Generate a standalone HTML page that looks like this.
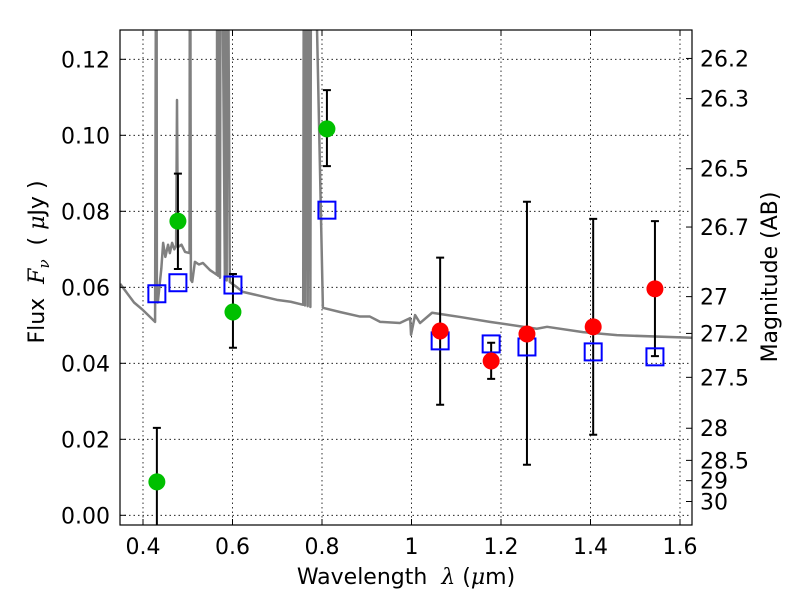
<!DOCTYPE html>
<html><head><meta charset="utf-8"><style>
body{margin:0;background:#fff;}
svg{display:block;font-family:"DejaVu Sans","Liberation Sans",sans-serif;}
</style></head><body>
<svg id="chart" width="800" height="600" viewBox="0 0 800 600" xmlns="http://www.w3.org/2000/svg">
<rect x="0" y="0" width="800" height="600" fill="#fff"/>
<defs><clipPath id="pc"><rect x="120" y="30" width="572" height="495"/></clipPath></defs>
<g id="grid"></g>
<g id="plot" clip-path="url(#pc)"></g>
<rect x="120" y="30" width="572" height="495" fill="none" stroke="#000" stroke-width="1.2"/>
<g id="axes"></g>
<text x="406" y="584" font-size="22" text-anchor="middle" xml:space="preserve">Wavelength  <tspan font-style="italic" font-family="DejaVu Serif, serif">λ</tspan> (<tspan font-style="italic" font-family="DejaVu Serif, serif">μ</tspan>m)</text>
<text transform="translate(44,262) rotate(-90)" font-size="22" text-anchor="middle" xml:space="preserve">Flux  <tspan font-style="italic" font-family="DejaVu Serif, serif">F</tspan><tspan font-style="italic" font-family="DejaVu Serif, serif" font-size="15" dy="5">ν</tspan><tspan dy="-5">  ( </tspan><tspan font-style="italic" font-family="DejaVu Serif, serif">μ</tspan>Jy )</text>
<text transform="translate(777,277) rotate(-90)" font-size="22" text-anchor="middle">Magnitude (AB)</text>
</svg>
<script>
const xTicks=[0.4,0.6,0.8,1.0,1.2,1.4,1.6];
const xTickLabels=["0.4","0.6","0.8","1","1.2","1.4","1.6"];
const yTicks=[0,0.02,0.04,0.06,0.08,0.10,0.12];
const yTickLabels=["0.00","0.02","0.04","0.06","0.08","0.10","0.12"];
const magTicks=[26.2,26.3,26.5,26.7,27,27.2,27.5,28,28.5,29,30];
const magTickLabels=["26.2","26.3","26.5","26.7","27","27.2","27.5","28","28.5","29","30"];
const specLam=[0.349,0.380,0.400,0.427,0.430,0.431,0.433,0.436,0.441,0.445,0.450,0.456,0.460,0.465,0.470,0.474,0.476,0.478,0.486,0.494,0.504,0.505,0.507,0.510,0.516,0.525,0.534,0.550,0.565,0.566,0.568,0.570,0.572,0.574,0.583,0.584,0.587,0.588,0.594,0.610,0.623,0.660,0.699,0.730,0.758,0.760,0.762,0.766,0.768,0.772,0.774,0.776,0.802,0.840,0.885,0.907,0.930,0.974,0.997,0.999,1.008,1.019,1.046,1.079,1.108,1.175,1.280,1.303,1.383,1.459,1.629];
const specFlux=[0.0609,0.0560,0.0540,0.0509,0.2,0.0600,0.0560,0.0593,0.0650,0.0717,0.0680,0.0712,0.0690,0.0717,0.0700,0.0710,0.1093,0.0706,0.0712,0.0693,0.0690,0.2,0.0620,0.0614,0.0667,0.0660,0.0664,0.0645,0.0633,0.2,0.0630,0.2,0.0625,0.2,0.0620,0.2,0.0618,0.2,0.0614,0.0600,0.0588,0.0578,0.0567,0.0562,0.0554,0.2,0.0552,0.2,0.0550,0.2,0.0548,0.2,0.0546,0.0535,0.0523,0.0523,0.0509,0.0506,0.0519,0.0475,0.0527,0.0506,0.0533,0.0527,0.0522,0.0509,0.0491,0.0496,0.0482,0.0474,0.0467];
const greenLam=[0.431,0.478,0.601,0.811];
const greenFlux=[0.0088,0.0774,0.0535,0.1017];
const greenHi=[0.023,0.0899,0.0635,0.1119];
const greenLo=[-0.01,0.0648,0.0441,0.0919];
const redLam=[1.064,1.178,1.258,1.406,1.544];
const redFlux=[0.0485,0.0406,0.0477,0.0496,0.0596];
const redHi=[0.0678,0.0454,0.0825,0.0780,0.0774];
const redLo=[0.0291,0.0359,0.0133,0.0212,0.0419];
const modelLam=[0.431,0.478,0.601,0.811,1.064,1.178,1.258,1.406,1.544];
const modelFlux=[0.0583,0.0612,0.0606,0.0803,0.0459,0.0451,0.0443,0.0430,0.0417];

const NS="http://www.w3.org/2000/svg";
const X=l=>143+(l-0.4)*447.5;
const Y=f=>515.3-f*3800;
function mk(tag,attrs,parent){const e=document.createElementNS(NS,tag);for(const k in attrs)e.setAttribute(k,attrs[k]);parent.appendChild(e);return e;}
const grid=document.getElementById('grid'),plot=document.getElementById('plot'),axes=document.getElementById('axes');

xTicks.forEach((t,i)=>{
  const x=X(t);
  const g=mk('line',{x1:x,x2:x,y1:30,y2:525,stroke:'#000','stroke-width':0.8,'stroke-dasharray':'1.5,3'},grid);
  
  
  const tk=mk('path',{d:`M${x},525v-6M${x},30v6`,stroke:'#000','stroke-width':1},axes);
  
  
  const tx=mk('text',{x:x,y:554,'font-size':22,'text-anchor':'middle'},axes);
  tx.textContent=xTickLabels[i];
  
  
});
yTicks.forEach((t,i)=>{
  const y=Y(t);
  const g=mk('line',{x1:120,x2:692,y1:y,y2:y,stroke:'#000','stroke-width':0.8,'stroke-dasharray':'1.5,3'},grid);
  
  
  const tk=mk('path',{d:`M120,${y}h6`,stroke:'#000','stroke-width':1},axes);
  
  
  const tx=mk('text',{x:110,y:y+8,'font-size':22,'text-anchor':'end'},axes);
  tx.textContent=yTickLabels[i];
  
  
});
magTicks.forEach((m,i)=>{
  const y=Y(Math.pow(10,(23.9-m)/2.5));
  const tk=mk('path',{d:`M692,${y}h-6`,stroke:'#000','stroke-width':1},axes);
  
  
  const tx=mk('text',{x:700,y:y+8,'font-size':22},axes);
  tx.textContent=magTickLabels[i];
  
  
});

const sp=mk('polyline',{points:specLam.map((l,i)=>X(l)+','+Y(specFlux[i])).join(' '),fill:'none',stroke:'#808080','stroke-width':2.5,'stroke-linejoin':'round'},plot);



function errbar(l,hi,lo){
  const x=X(l);
  const e=mk('path',{d:`M${x},${Y(hi)}V${Y(lo)}M${x-4},${Y(hi)}h8M${x-4},${Y(lo)}h8`,stroke:'#000','stroke-width':2},plot);
  
  
}
greenLam.forEach((l,i)=>errbar(l,greenHi[i],greenLo[i]));
redLam.forEach((l,i)=>errbar(l,redHi[i],redLo[i]));
modelLam.forEach((l,i)=>{
  const r=mk('rect',{x:X(l)-8.5,y:Y(modelFlux[i])-8.5,width:17,height:17,fill:'none',stroke:'#0000ff','stroke-width':2},plot);
  
  
});
greenLam.forEach((l,i)=>{
  const c=mk('circle',{cx:X(l),cy:Y(greenFlux[i]),r:8.5,fill:'#00c000'},plot);
  
  
});
redLam.forEach((l,i)=>{
  const c=mk('circle',{cx:X(l),cy:Y(redFlux[i]),r:8.5,fill:'#ff0000'},plot);
  
  
});
</script>
</body></html>
